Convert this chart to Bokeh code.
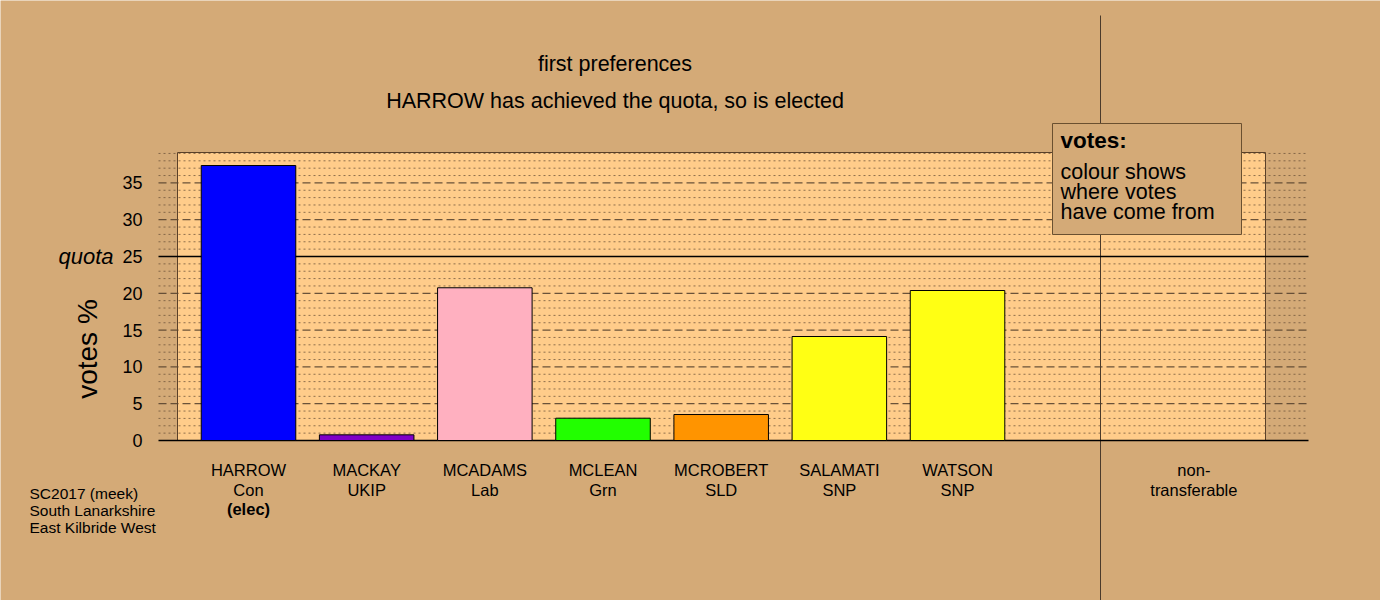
import math
from bokeh.plotting import figure
from bokeh.models import Range1d
from bokeh.embed import file_html
from bokeh.resources import INLINE
from bokeh.core.properties import value

# ---- data ----
candidates = ["HARROW", "MACKAY", "MCADAMS", "MCLEAN", "MCROBERT", "SALAMATI", "WATSON"]
parties = ["Con", "UKIP", "Lab", "Grn", "SLD", "SNP", "SNP"]
votes = [37.36, 0.77, 20.75, 3.03, 3.53, 14.13, 20.38]
bar_colors = ["#0000FF", "#8000C8", "#FFB0C0", "#22FF00", "#FF9400", "#FFFF14", "#FFFF14"]
elected = ["(elec)", "", "", "", "", "", ""]
nontransferable_label = ["non-", "transferable"]
nontransferable_votes = 0.0
quota = 25
y_ticks = [0, 5, 10, 15, 20, 25, 30, 35]
y_tick_labels = ["0", "5", "10", "15", "20", "25", "30", "35"]
titles = ["first preferences", "HARROW has achieved the quota, so is elected"]
legend_title = "votes:"
legend_lines = ["colour shows", "where votes", "have come from"]
footnote = ["SC2017 (meek)", "South Lanarkshire", "East Kilbride West"]

# ---- style / layout ----
BG = "#D4AA77"
PANEL = "#FFCC8A"
FONT = "Liberation Sans"
PX_X = 118.17   # pixels per category
PX_Y = 7.36     # pixels per vote-%


def dx(px):
    return 1 + (px - 248) / PX_X


def dy(py):
    return (440 - py) / PX_Y


positions = list(range(1, len(candidates) + 1))
nt_pos = len(candidates) + 2

p = figure(width=1380, height=600, output_backend="svg", toolbar_location=None,
           x_range=Range1d(dx(0), dx(1380)), y_range=Range1d(dy(600), dy(0)),
           x_axis_location=None, y_axis_location=None,
           min_border_left=0, min_border_right=0, min_border_top=0, min_border_bottom=0,
           background_fill_color=BG, border_fill_color=BG)
p.outline_line_color = None
p.xgrid.visible = False
p.ygrid.visible = False

# panel behind bars
p.quad(left=dx(177), right=dx(1265), bottom=0, top=dy(152), fill_color=PANEL,
       line_color="#5a4028", line_width=1)

# grid lines
gx0, gx1 = dx(158), dx(1308)
dotted = [v for v in range(1, 40) if v % 5 != 0]
dashed = [v for v in range(5, 40, 5) if v != quota]
p.segment(x0=gx0, x1=gx1, y0=dotted, y1=dotted, line_color="#6a5038",
          line_alpha=0.75, line_width=1, line_dash="2 3")
p.segment(x0=gx0, x1=gx1, y0=dashed, y1=dashed, line_color="#5a4530",
          line_alpha=0.9, line_width=1.3, line_dash="8 4")

# separator line
p.segment(x0=dx(1100), x1=dx(1100), y0=dy(610), y1=dy(15), line_color="#4a3a2a", line_width=1)

# quota and baseline
p.segment(x0=gx0, x1=gx1, y0=[quota, 0], y1=[quota, 0], line_color="black", line_width=1.5)

# bars
p.vbar(x=positions, width=0.8, bottom=0, top=votes, fill_color=bar_colors,
       line_color="black", line_width=1)
p.vbar(x=[nt_pos], width=0.8, bottom=0, top=[nontransferable_votes],
       fill_color="#888888", line_color=None)

# y tick labels
p.text(x=[dx(142)] * len(y_ticks), y=y_ticks, text=y_tick_labels, text_font=value(FONT),
       text_font_size="18px", text_align="right", text_baseline="middle", text_color="black")
p.text(x=[dx(113)], y=[quota], text=["quota"], text_font=value(FONT),
       text_font_size="22px", text_font_style="italic", text_align="right",
       text_baseline="middle", text_color="black")
p.text(x=[dx(87)], y=[dy(348.5)], text=["votes %"], angle=math.pi / 2,
       text_font=value(FONT), text_font_size="28px", text_align="center",
       text_baseline="alphabetic", text_color="black")

# legend box
p.quad(left=dx(1052), right=dx(1241), bottom=dy(234), top=dy(123), fill_color=BG,
       line_color="#6a5030", line_width=1)
p.text(x=[dx(1060)], y=[dy(140)], text=[legend_title], text_font=value(FONT),
       text_font_size="22.5px", text_font_style="bold", text_baseline="alphabetic",
       text_align="left", text_color="black")
p.text(x=[dx(1060)] * 3, y=[dy(171.3), dy(191.3), dy(211.3)],
       text=legend_lines, text_font=value(FONT), text_font_size="21.5px",
       text_baseline="alphabetic", text_align="left", text_color="black")

# titles
p.text(x=[dx(614.5)] * 2, y=[dy(63), dy(100.8)], text=titles,
       text_font=value(FONT), text_font_size="21.5px", text_align="center",
       text_baseline="alphabetic", text_color="black")

# category labels
y1, y2, y3 = dy(469), dy(489), dy(508)
p.text(x=positions, y=[y1] * len(positions), text=candidates, text_font=value(FONT),
       text_font_size="16.5px", text_align="center", text_baseline="alphabetic", text_color="black")
p.text(x=positions, y=[y2] * len(positions), text=parties, text_font=value(FONT),
       text_font_size="16.5px", text_align="center", text_baseline="alphabetic", text_color="black")
p.text(x=positions, y=[y3] * len(positions), text=elected, text_font=value(FONT),
       text_font_size="16.5px", text_font_style="bold", text_align="center",
       text_baseline="alphabetic", text_color="black")
p.text(x=[nt_pos, nt_pos], y=[y1, y2], text=nontransferable_label, text_font=value(FONT),
       text_font_size="16.5px", text_align="center", text_baseline="alphabetic", text_color="black")

# footnote
p.text(x=[dx(29)] * 3, y=[dy(493.3), dy(510.0), dy(526.7)], text=footnote,
       text_font=value(FONT), text_font_size="15.5px", text_align="left",
       text_baseline="alphabetic", text_color="black")

open("out.html", "w").write(file_html(p, INLINE))
